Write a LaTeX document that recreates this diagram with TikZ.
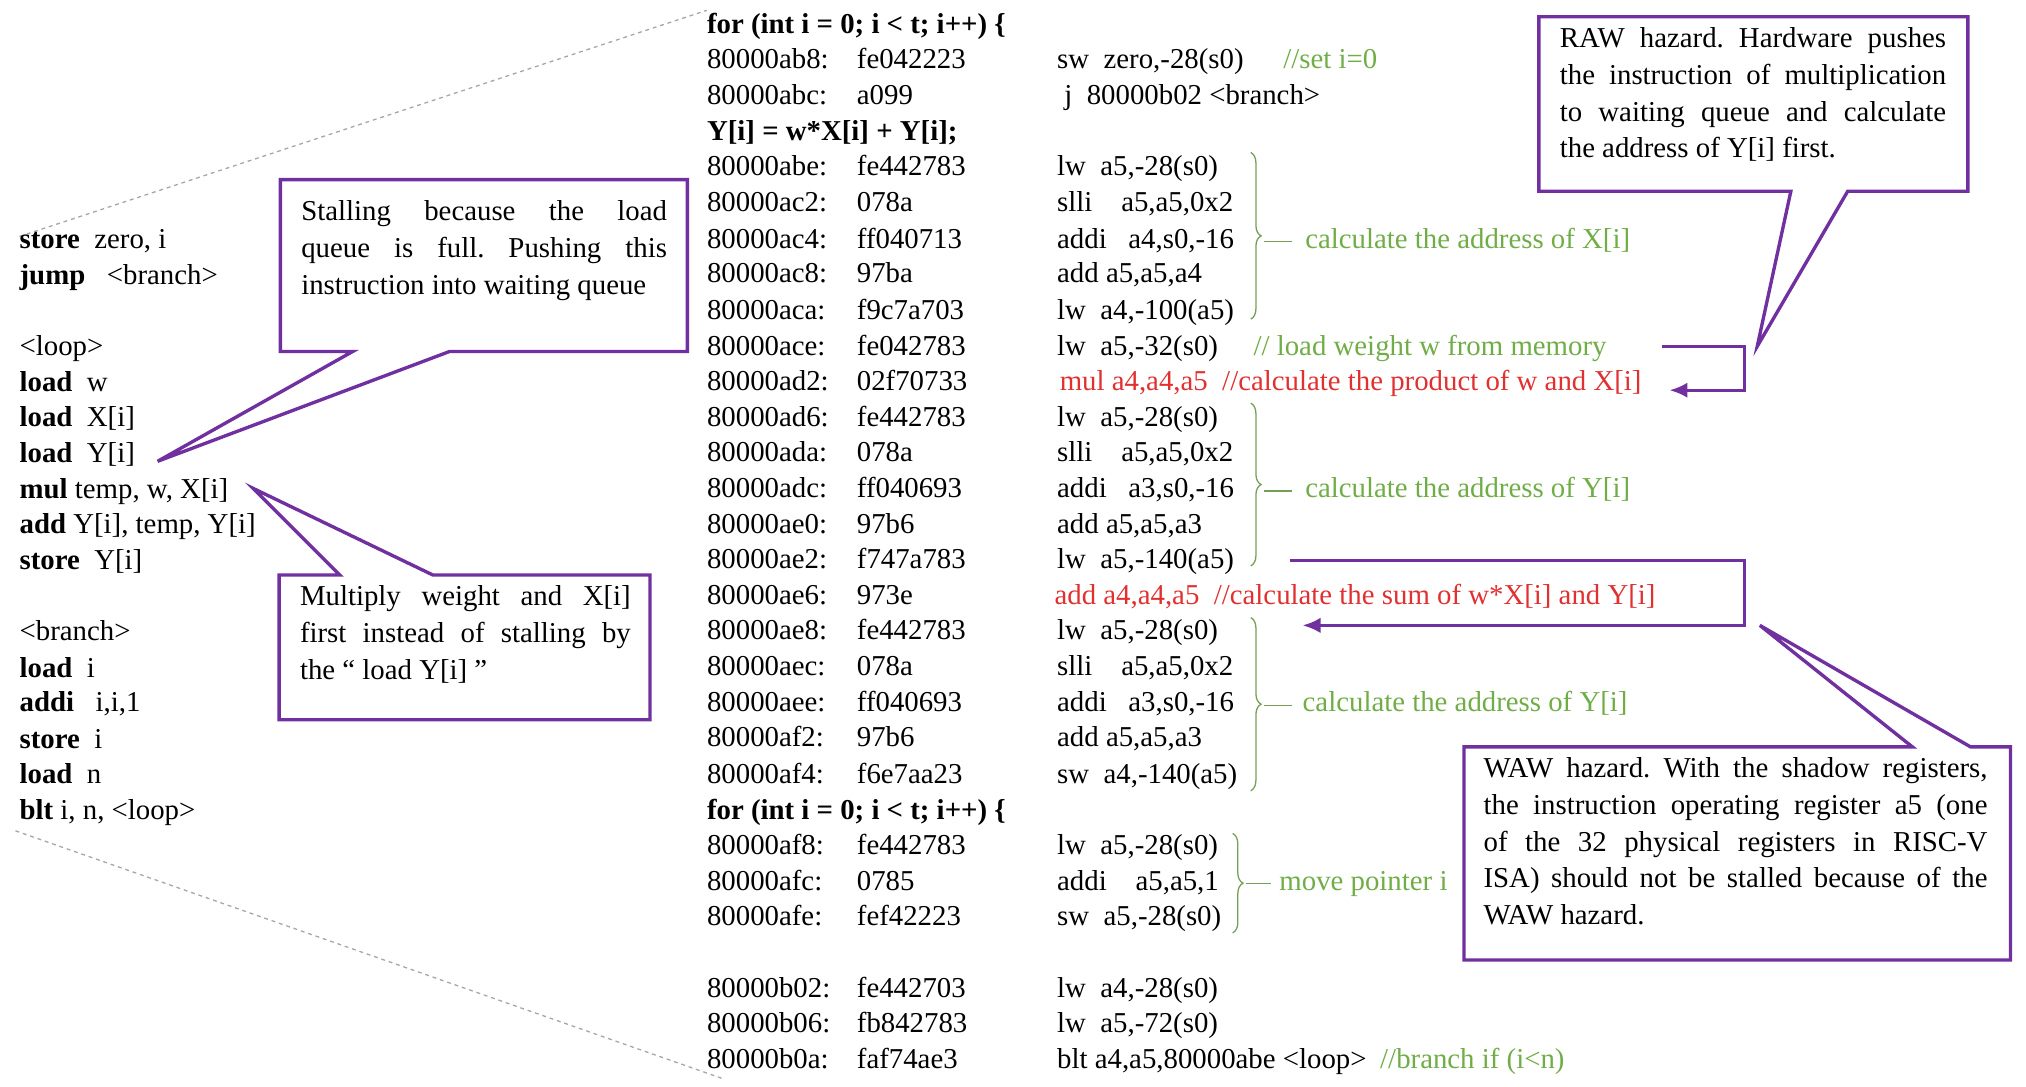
\documentclass[tikz,border=0pt]{standalone}
\usepackage{fontspec}
\setmainfont{Liberation Serif}
\usetikzlibrary{decorations.pathreplacing,arrows.meta}
\definecolor{pur}{HTML}{7030A0}
\definecolor{grn}{HTML}{70AD47}
\definecolor{rd}{HTML}{E03030}
\begin{document}
\frenchspacing\hyphenpenalty=10000\exhyphenpenalty=10000
\begin{tikzpicture}[x=1pt,y=-1pt,
  t/.style={anchor=west,inner sep=0pt,text height=14pt,text depth=4pt,font=\fontsize{22.3}{26}\selectfont},
  g/.style={t,text=grn},
  r/.style={t,text=rd},
  call/.style={draw=pur,line width=2.6pt,line join=miter},
  ctext/.style={anchor=north west,inner sep=0pt,align=justify,font=\fontsize{22.3}{28.5}\selectfont},
  br/.style={decorate,decoration={brace,amplitude=8pt},draw=grn!70!gray,line width=1pt},
  arr/.style={draw=pur,line width=2.6pt,-{Latex[length=14pt,width=12pt]}},
  dsh/.style={draw=gray!70,dashed,line width=1pt}]
\useasboundingbox (0,0) rectangle (1568,841);
% dashed zoom lines
\coordinate (d1) at (15,183); \coordinate (d2) at (547,8);
\coordinate (d3) at (12,643); \coordinate (d4) at (560,835);
\draw[dsh] (d1) -- (d2); \draw[dsh] (d3) -- (d4);
% left pseudo code
\node[t] (l1) at (15,187) {\textbf{store}\ \ zero, i};
\node[t] (l2) at (15,215) {\textbf{jump}\ \ \ <branch>};
\node[t] (l3) at (15,270) {<loop>};
\node[t] (l4) at (15,298) {\textbf{load}\ \ w};
\node[t] (l5) at (15,325) {\textbf{load}\ \ X[i]};
\node[t] (l6) at (15,353) {\textbf{load}\ \ Y[i]};
\node[t] (l7) at (15,381) {\textbf{mul} temp, w, X[i]};
\node[t] (l8) at (15,408) {\textbf{add} Y[i], temp, Y[i]};
\node[t] (l9) at (15,436) {\textbf{store}\ \ Y[i]};
\node[t] (l10) at (15,491) {<branch>};
\node[t] (l11) at (15,519) {\textbf{load}\ \ i};
\node[t] (l12) at (15,546) {\textbf{addi}\ \ \ i,i,1};
\node[t] (l13) at (15,574) {\textbf{store}\ \ i};
\node[t] (l14) at (15,601) {\textbf{load}\ \ n};
\node[t] (l15) at (15,629) {\textbf{blt} i, n, <loop>};
% assembly
\newcommand\rw[5]{\node[t] (a#1) at (547,#2) {#3:}; \node[t] (h#1) at (663,#2) {#4}; \node[t] (i#1) at (818,#2) {#5};}
\node[t] (f1) at (547,21) {\textbf{for (int i = 0; i < t; i++) \{}};
\rw{1}{48}{80000ab8}{fe042223}{sw\ \ zero,-28(s0)}
\node[g] (c1) at (993,48) {//set i=0};
\rw{2}{76}{80000abc}{a099}{\ j\ \ 80000b02 <branch>}
\node[t] (f2) at (547,104) {\textbf{Y[i] = w*X[i] + Y[i];}};
\rw{3}{131}{80000abe}{fe442783}{lw\ \ a5,-28(s0)}
\rw{4}{159}{80000ac2}{078a}{slli\ \ \ \ a5,a5,0x2}
\rw{5}{187}{80000ac4}{ff040713}{addi\ \ \ a4,s0,-16}
\rw{6}{214}{80000ac8}{97ba}{add a5,a5,a4}
\rw{7}{242}{80000aca}{f9c7a703}{lw\ \ a4,-100(a5)}
\rw{8}{270}{80000ace}{fe042783}{lw\ \ a5,-32(s0)}
\node[g] (c2) at (970,270) {// load weight w from memory};
\node[t] (a9) at (547,297) {80000ad2:}; \node[t] (h9) at (663,297) {02f70733};
\node[r] (i9) at (820,297) {mul a4,a4,a5\ \ //calculate the product of w and X[i]};
\rw{10}{325}{80000ad6}{fe442783}{lw\ \ a5,-28(s0)}
\rw{11}{352}{80000ada}{078a}{slli\ \ \ \ a5,a5,0x2}
\rw{12}{380}{80000adc}{ff040693}{addi\ \ \ a3,s0,-16}
\rw{13}{408}{80000ae0}{97b6}{add a5,a5,a3}
\rw{14}{435}{80000ae2}{f747a783}{lw\ \ a5,-140(a5)}
\node[t] (a15) at (547,463) {80000ae6:}; \node[t] (h15) at (663,463) {973e};
\node[r] (i15) at (816,463) {add a4,a4,a5\ \ //calculate the sum of w*X[i] and Y[i]};
\rw{16}{490}{80000ae8}{fe442783}{lw\ \ a5,-28(s0)}
\rw{17}{518}{80000aec}{078a}{slli\ \ \ \ a5,a5,0x2}
\rw{18}{546}{80000aee}{ff040693}{addi\ \ \ a3,s0,-16}
\rw{19}{573}{80000af2}{97b6}{add a5,a5,a3}
\rw{20}{601}{80000af4}{f6e7aa23}{sw\ \ a4,-140(a5)}
\node[t] (f3) at (547,629) {\textbf{for (int i = 0; i < t; i++) \{}};
\rw{21}{656}{80000af8}{fe442783}{lw\ \ a5,-28(s0)}
\rw{22}{684}{80000afc}{0785}{addi\ \ \ \ a5,a5,1}
\rw{23}{711}{80000afe}{fef42223}{sw\ \ a5,-28(s0)}
\rw{24}{767}{80000b02}{fe442703}{lw\ \ a4,-28(s0)}
\rw{25}{794}{80000b06}{fb842783}{lw\ \ a5,-72(s0)}
\rw{26}{822}{80000b0a}{faf74ae3}{blt a4,a5,80000abe <loop>}
\node[g] (c3) at (1068,822) {//branch if (i<n)};
% braces
\coordinate (b1a) at (968,118); \coordinate (b1b) at (968,247);
\coordinate (b2a) at (968,312); \coordinate (b2b) at (968,438);
\coordinate (b3a) at (968,478); \coordinate (b3b) at (968,612);
\coordinate (b4a) at (954,645); \coordinate (b4b) at (954,722);
\draw[br] (b1a) -- (b1b); \draw[br] (b2a) -- (b2b);
\draw[br] (b3a) -- (b3b); \draw[br] (b4a) -- (b4b);
\draw[grn!70!gray,line width=1pt] (978,187) -- (1000,187) (978,380) -- (1000,380) (978,546) -- (1000,546) (964,684) -- (984,684);
\node[g] (g1) at (1010,187) {calculate the address of X[i]};
\node[g] (g2) at (1010,380) {calculate the address of Y[i]};
\node[g] (g3) at (1008,546) {calculate the address of Y[i]};
\node[g] (g4) at (990,684) {move pointer i};
% hazard arrows
\coordinate (p1) at (1286,268); \coordinate (p2) at (1350,268); \coordinate (p3) at (1350,302); \coordinate (p4) at (1292,302);
\draw[arr] (p1) -- (p2) -- (p3) -- (p4);
\coordinate (q1) at (998,434); \coordinate (q2) at (1350,434); \coordinate (q3) at (1350,484); \coordinate (q4) at (1008,484);
\draw[arr] (q1) -- (q2) -- (q3) -- (q4);
% callouts
\draw[call] (217,139) -- (532,139) -- (532,272) -- (348,272) -- (122,357) -- (273,272) -- (217,272) -- cycle;
\node[ctext,text width=283pt] (k1) at (233,155) {Stalling because the load\linebreak queue is full. Pushing this\linebreak instruction into waiting queue};
\draw[call] (216,445) -- (263,445) -- (196,378) -- (335,445) -- (503,445) -- (503,557) -- (216,557) -- cycle;
\node[ctext,text width=256pt] (k2) at (232,453) {Multiply weight and X[i]\linebreak first instead of stalling by\linebreak the `` load Y[i] ''};
\draw[call] (1191,13) -- (1523,13) -- (1523,148) -- (1430,148) -- (1360,268) -- (1386,148) -- (1191,148) -- cycle;
\node[ctext,text width=299pt] (k3) at (1207,21) {RAW hazard. Hardware pushes\linebreak the instruction of multiplication\linebreak to waiting queue and calculate\linebreak the address of Y[i] first.};
\draw[call] (1133,578) -- (1480,578) -- (1362,484) -- (1525,578) -- (1556,578) -- (1556,743) -- (1133,743) -- cycle;
\node[ctext,text width=390pt] (k4) at (1148,586) {WAW hazard. With the shadow registers,\linebreak the instruction operating register a5 (one\linebreak of the 32 physical registers in RISC-V\linebreak ISA) should not be stalled because of the\linebreak WAW hazard.};
\end{tikzpicture}
\end{document}
